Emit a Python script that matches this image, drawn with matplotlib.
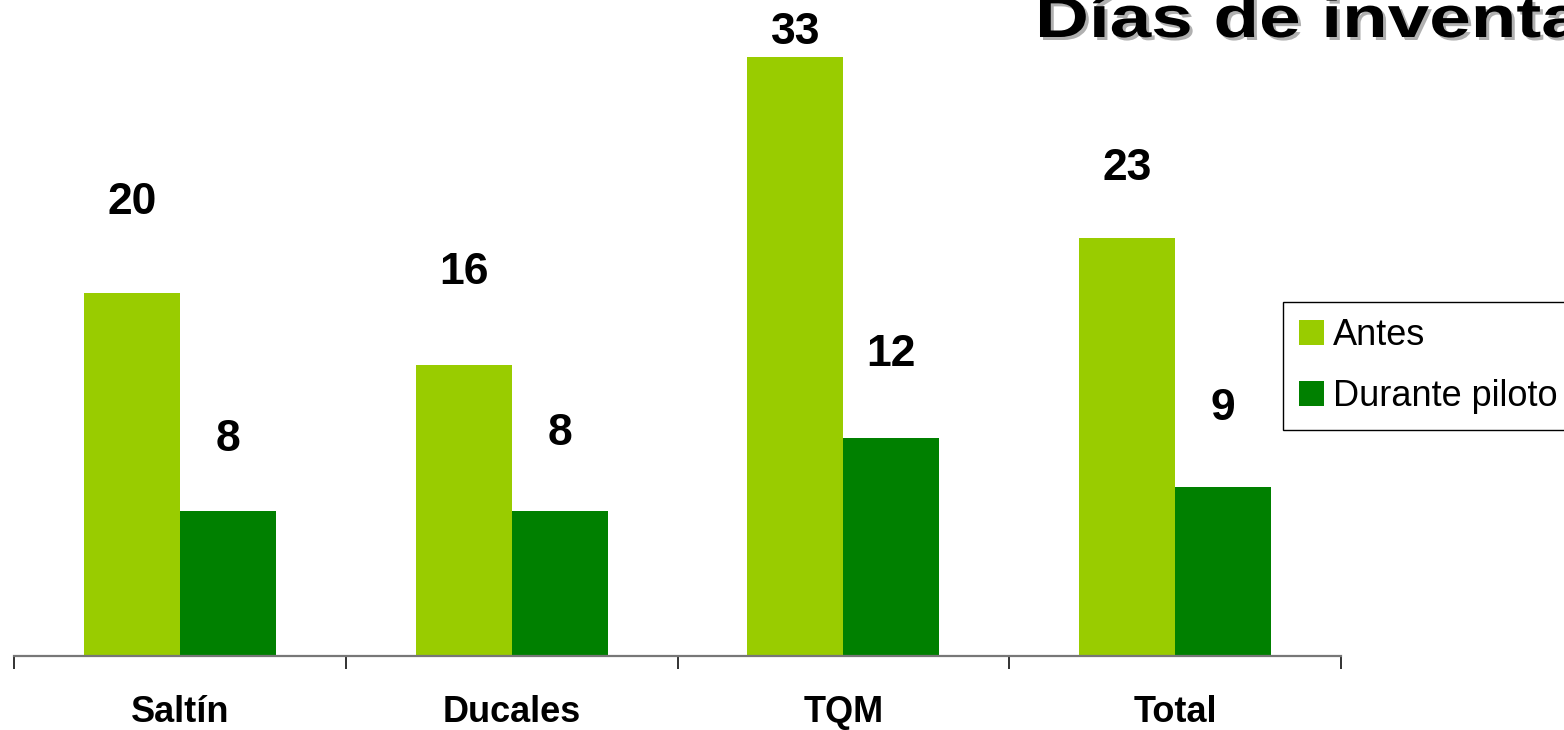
import matplotlib
matplotlib.use("Agg")
import matplotlib.pyplot as plt
from matplotlib.patheffects import AbstractPathEffect
from matplotlib.transforms import Affine2D
from matplotlib.patches import Patch
from matplotlib.colors import to_rgba

categories = ["Saltín", "Ducales", "TQM", "Total"]
antes = [20, 16, 33, 23]
durante = [8, 8, 12, 9.3]
series_names = ["Antes", "Durante piloto"]
title = "Días de inventario"

col_antes = "#99cc00"
col_durante = "#008000"

W, H = 1564, 730
fig = plt.figure(figsize=(W / 100, H / 100), dpi=100)
ax = fig.add_axes([14 / W, (H - 656) / H, 1327 / W, 654 / H])

bw = 0.289
x = list(range(len(categories)))
b1 = ax.bar([i - bw / 2 for i in x], antes, width=bw, color=col_antes)
b2 = ax.bar([i + bw / 2 for i in x], durante, width=bw, color=col_durante)

ax.set_xlim(-0.5, len(categories) - 0.5)
ax.set_ylim(0, 36)

# value labels (pixel offsets above bar tops)
off_antes = [90, 93, 24, 70]
off_dur = [71, 77, 84, 79]
for bars, vals, offs in ((b1, antes, off_antes), (b2, durante, off_dur)):
    for r, v, o in zip(bars, vals, offs):
        ax.annotate(f"{round(v):d}", (r.get_x() + r.get_width() / 2, v),
                    xytext=(0, o * 0.72), textcoords="offset points",
                    ha="center", va="center", fontsize=32, fontweight="bold",
                    family="Liberation Sans", annotation_clip=False)

for s in ("left", "right", "top"):
    ax.spines[s].set_visible(False)
ax.spines["bottom"].set_color("#777777")
ax.spines["bottom"].set_linewidth(1.6)
ax.set_yticks([])
ax.set_xticks(x)
ax.set_xticklabels(categories, fontsize=26, fontweight="bold", family="Liberation Sans")
ax.tick_params(axis="x", which="major", length=0, pad=28)
ax.set_xticks([i - 0.5 for i in range(len(categories) + 1)], minor=True)
ax.tick_params(axis="x", which="minor", length=9.5, width=1.3, color="#222222", direction="out")


class StretchShadow(AbstractPathEffect):
    """Draw text stretched horizontally about x0, with a grey drop shadow."""
    def __init__(self, x0, sx, shadow=(3, -3), shadow_color="#b0b0b0"):
        super().__init__()
        self.x0, self.sx = x0, sx
        self.shadow, self.shadow_color = shadow, to_rgba(shadow_color)

    def draw_path(self, renderer, gc, tpath, affine, rgbFace=None):
        st = Affine2D().translate(-self.x0, 0).scale(self.sx, 1).translate(self.x0, 0)
        gc0 = renderer.new_gc()
        gc0.copy_properties(gc)
        gc0.set_linewidth(0)
        sh = affine + st + Affine2D().translate(*self.shadow)
        renderer.draw_path(gc0, tpath, sh, self.shadow_color)
        gc0.restore()
        renderer.draw_path(gc, tpath, affine + st, rgbFace)


fig.text(1035 / W, 1 - 37 / H, title, fontsize=42, fontweight="bold",
         family="Liberation Sans", ha="left", va="baseline",
         path_effects=[StretchShadow(1035, 1.28)])

handles = [Patch(facecolor=col_antes, edgecolor="none"),
           Patch(facecolor=col_durante, edgecolor="none")]
leg = fig.legend(handles, series_names, loc="upper left",
                 bbox_to_anchor=(1283 / W, 1 - 302 / H), bbox_transform=fig.transFigure,
                 prop={"family": "Liberation Sans", "size": 26},
                 handlelength=0.68, handleheight=0.68, handletextpad=0.25,
                 labelspacing=0.71, borderpad=0.45, borderaxespad=0,
                 fancybox=False, framealpha=1, edgecolor="black")
leg.get_frame().set_linewidth(1.0)

fig.savefig("out.png", dpi=100)
